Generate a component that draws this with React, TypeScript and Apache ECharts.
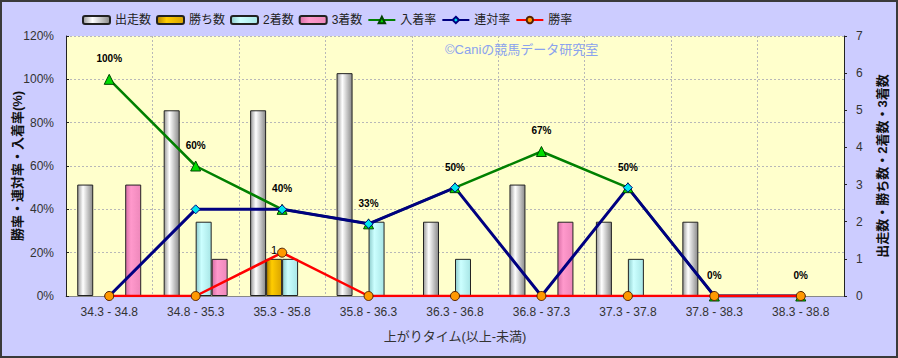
import React, { useEffect, useRef } from "react";
import * as echarts from "echarts";

const categories = ["34.3 - 34.8", "34.8 - 35.3", "35.3 - 35.8", "35.8 - 36.3", "36.3 - 36.8", "36.8 - 37.3", "37.3 - 37.8", "37.8 - 38.3", "38.3 - 38.8"];
const runs = [3, 5, 5, 6, 2, 3, 2, 2, 0];
const wins = [0, 0, 1, 0, 0, 0, 0, 0, 0];
const seconds = [0, 2, 1, 2, 1, 0, 1, 0, 0];
const thirds = [3, 1, 0, 0, 0, 2, 0, 0, 0];
const placeRate = [100, 60, 40, 33.3, 50, 66.7, 50, 0, 0];
const quinellaRate = [0, 40, 40, 33.3, 50, 0, 50, 0, 0];
const winRate = [0, 0, 20, 0, 0, 0, 0, 0, 0];

const FONT = "'Liberation Sans', 'Noto Sans CJK JP', sans-serif";

function grad(c0: string, c1: string, c2: string) {
  return new echarts.graphic.LinearGradient(0, 0, 1, 0, [
    { offset: 0, color: c0 },
    { offset: 0.35, color: c1 },
    { offset: 1, color: c2 },
  ]);
}

const noZero = (arr: number[]) => arr.map((v) => (v === 0 ? "-" : v));

export default function App() {
  const ref = useRef<HTMLDivElement>(null);
  useEffect(() => {
    if (!ref.current) return;
    const chart = echarts.init(ref.current, undefined, { renderer: "svg" });
    const barBorder = { borderColor: "#222", borderWidth: 1 };
    chart.setOption({
      animation: false,
      backgroundColor: "#CCCCFF",
      textStyle: { fontFamily: FONT },
      graphic: [
        { type: "rect", shape: { x: 1, y: 1, width: 896, height: 356 }, style: { fill: "none", stroke: "#3a3a3a", lineWidth: 2 }, z: 100 },
        { type: "text", left: 445, top: 43, style: { text: "©Caniの競馬データ研究室", fill: "#8aa2ee", font: "13px " + FONT }, z: 100 },
      ],
      legend: {
        left: 77,
        top: 9,
        itemWidth: 27,
        itemHeight: 8,
        itemGap: 5,
        textStyle: { fontSize: 12, color: "#222", fontFamily: FONT },
        data: ["出走数", "勝ち数", "2着数", "3着数", "入着率", "連対率", "勝率"],
      },
      grid: { left: 66, right: 54, top: 36, bottom: 62, show: true, backgroundColor: "#FFFFCC", borderWidth: 0, outerBoundsMode: "none", containLabel: false },
      xAxis: {
        type: "category",
        data: categories,
        name: "上がりタイム(以上-未満)",
        nameLocation: "middle",
        nameGap: 34,
        nameMoveOverlap: false,
        nameTextStyle: { fontSize: 13, color: "#333", fontFamily: FONT },
        axisLine: { lineStyle: { color: "#888" } },
        axisTick: { show: false },
        axisLabel: { fontSize: 12, color: "#333", margin: 10 },
        splitLine: { show: true, lineStyle: { color: "#b8b8b8", type: [2, 2] } },
      },
      yAxis: [
        {
          type: "value",
          min: 0,
          max: 120,
          interval: 20,
          name: "勝率・連対率・入着率(%)",
          nameLocation: "middle",
          nameGap: 42,
          nameMoveOverlap: false,
          nameTextStyle: { fontSize: 13, fontWeight: "bold", color: "#111", fontFamily: FONT },
          axisLine: { show: true, lineStyle: { color: "#222" } },
          axisTick: { show: true, inside: true, length: 3, lineStyle: { color: "#222" } },
          axisLabel: { formatter: "{value}%", fontSize: 12, color: "#333", margin: 12 },
          splitLine: { show: true, lineStyle: { color: "#b8b8b8", type: [2, 2] } },
        },
        {
          type: "value",
          min: 0,
          max: 7,
          interval: 1,
          position: "right",
          name: "出走数・勝ち数・2着数・3着数",
          nameLocation: "middle",
          nameGap: 32,
          nameMoveOverlap: false,
          nameTextStyle: { fontSize: 13, fontWeight: "bold", color: "#111", fontFamily: FONT },
          axisLine: { show: true, lineStyle: { color: "#222" } },
          axisTick: { show: true, length: 3, lineStyle: { color: "#222" } },
          axisLabel: { fontSize: 12, color: "#333", margin: 12 },
          splitLine: { show: false },
        },
      ],
      series: [
        {
          name: "出走数", type: "bar", yAxisIndex: 1, data: noZero(runs), barGap: "0%", barCategoryGap: "26%",
          itemStyle: { color: grad("#9a9a9a", "#ffffff", "#8a8a8a"), ...barBorder },
        },
        {
          name: "勝ち数", type: "bar", yAxisIndex: 1, data: noZero(wins), barGap: "0%", barCategoryGap: "26%",
          itemStyle: { color: grad("#b08000", "#ffcc00", "#d9a400"), ...barBorder },
          label: { show: true, position: "top", fontSize: 11, color: "#000", distance: 3, formatter: (p: any) => (p.value ? String(p.value) : "") },
        },
        {
          name: "2着数", type: "bar", yAxisIndex: 1, data: noZero(seconds), barGap: "0%", barCategoryGap: "26%",
          itemStyle: { color: grad("#8ecccc", "#ccffff", "#a8e6e6"), ...barBorder },
        },
        {
          name: "3着数", type: "bar", yAxisIndex: 1, data: noZero(thirds), barGap: "0%", barCategoryGap: "26%",
          itemStyle: { color: grad("#d96fa6", "#ff99cc", "#ee88bb"), ...barBorder },
        },
        {
          name: "入着率", type: "line", yAxisIndex: 0, data: placeRate,
          lineStyle: { color: "#008000", width: 2.5 },
          symbol: "triangle", symbolSize: 10,
          itemStyle: { color: "#00dd00", borderColor: "#004400", borderWidth: 1 },
          label: { show: true, position: "top", distance: 10, fontSize: 10, fontWeight: "bold", color: "#000", formatter: (p: any) => Math.round(p.value) + "%" },
        },
        {
          name: "連対率", type: "line", yAxisIndex: 0, data: quinellaRate,
          lineStyle: { color: "#000080", width: 3 },
          symbol: "diamond", symbolSize: 9,
          itemStyle: { color: "#00e5ee", borderColor: "#000080", borderWidth: 1 },
        },
        {
          name: "勝率", type: "line", yAxisIndex: 0, data: winRate,
          lineStyle: { color: "#ff0000", width: 2.5 },
          symbol: "circle", symbolSize: 9,
          itemStyle: { color: "#ff9900", borderColor: "#552200", borderWidth: 1 },
        },
      ],
    });
    return () => chart.dispose();
  }, []);
  return <div ref={ref} style={{ position: "fixed", left: 0, top: 0, width: 898, height: 358 }} />;
}
